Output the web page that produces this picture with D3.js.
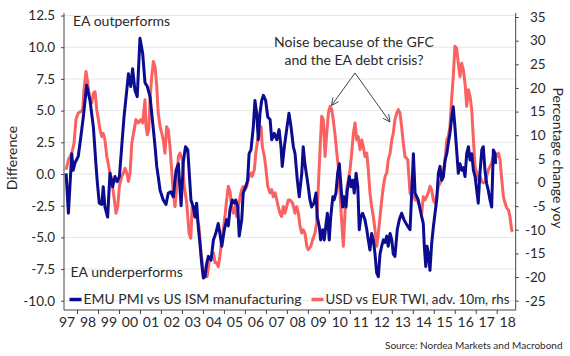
<!DOCTYPE html>
<html><head><meta charset="utf-8">
<script src="https://cdn.jsdelivr.net/npm/d3@7"></script>
<style>body{margin:0;background:#fff}svg{display:block;font-family:Lato,"Open Sans",sans-serif}</style>
</head><body><svg id="c" width="570" height="356"></svg>
<script>
// ---- data ----
const yearTicks = d3.range(1998, 2019);
const yearLabels = ["97","98","99","00","01","02","03","04","05","06","07","08","09","10","11","12","13","14","15","16","17","18"];
const yearLabelPositions = d3.range(1997.5, 2019, 1);
const leftTicks = [-10, -7.5, -5, -2.5, 0, 2.5, 5, 7.5, 10, 12.5];
const rightTicks = [-25, -20, -15, -10, -5, 0, 5, 10, 15, 20, 25, 30, 35];

// EMU PMI vs US ISM manufacturing (difference, lhs) [decimal year, value]
const emuPmiVsIsm = [
[1997.48,0.05],[1997.59,-3.1],[1997.75,1.6],[1997.82,0.3],[1997.90,0.85],[1998.06,1.4],[1998.18,2.9],[1998.30,4.5],[1998.46,7.0],[1998.62,5.8],[1998.78,3.7],[1998.91,0.6],[1998.97,-0.7],[1999.06,-2.3],[1999.18,-2.4],[1999.25,-1.0],[1999.33,-2.6],[1999.46,-3.4],[1999.57,0.05],[1999.70,-1.0],[1999.81,-0.2],[1999.92,-0.6],
[2000.02,-0.2],[2000.13,2.15],[2000.24,4.5],[2000.34,6.1],[2000.45,7.9],[2000.56,6.9],[2000.65,8.3],[2000.76,6.6],[2000.87,6.1],[2001.00,10.7],[2001.13,9.5],[2001.24,7.2],[2001.35,6.9],[2001.48,6.1],[2001.61,4.0],[2001.72,2.15],[2001.80,0.6],[2001.87,-0.2],[2001.96,-1.3],
[2002.11,-2.05],[2002.24,-2.4],[2002.35,-1.5],[2002.47,-1.4],[2002.59,-1.8],[2002.72,0.3],[2002.83,0.8],[2002.96,-2.5],[2003.07,1.0],[2003.17,2.15],[2003.28,1.9],[2003.34,0.3],[2003.43,-2.05],[2003.54,-2.6],[2003.62,-3.4],[2003.70,-2.3],[2003.78,-4.2],[2003.86,-5.5],[2003.94,-7.05],
[2004.02,-8.2],[2004.10,-8.1],[2004.18,-7.05],[2004.26,-6.5],[2004.39,-6.8],[2004.50,-5.2],[2004.61,-4.7],[2004.73,-3.9],[2004.81,-4.7],[2004.90,-5.7],[2005.02,-4.4],[2005.13,-3.6],[2005.21,-4.1],[2005.29,-2.8],[2005.40,-2.05],[2005.50,-2.3],[2005.56,-2.05],[2005.66,-2.6],[2005.73,-4.9],[2005.85,-3.6],[2005.92,-1.5],
[2006.04,-1.0],[2006.13,-0.5],[2006.20,1.6],[2006.29,1.9],[2006.40,3.7],[2006.48,5.8],[2006.56,4.8],[2006.64,2.7],[2006.72,4.8],[2006.80,5.8],[2006.88,6.2],[2006.99,5.8],[2007.09,4.5],[2007.20,4.3],[2007.28,2.7],[2007.40,3.2],[2007.52,2.7],[2007.63,3.5],[2007.72,2.15],[2007.78,0.6],[2007.88,2.15],[2007.99,3.5],
[2008.10,4.8],[2008.20,3.7],[2008.31,2.15],[2008.39,1.6],[2008.50,-0.5],[2008.59,-1.8],[2008.71,0.05],[2008.78,2.15],[2008.86,0.8],[2008.95,-0.2],[2009.02,-1.0],[2009.10,-2.05],[2009.18,-2.6],[2009.29,-2.3],[2009.39,-1.5],[2009.45,-3.4],[2009.55,-4.2],[2009.61,-5.2],[2009.71,-4.4],[2009.78,-5.2],[2009.87,-3.9],[2009.93,-3.1],
[2010.02,-5.2],[2010.09,-3.4],[2010.19,-1.8],[2010.25,-2.05],[2010.34,-1.5],[2010.42,0.05],[2010.50,0.8],[2010.58,-1.0],[2010.66,-2.6],[2010.72,-1.8],[2010.82,-2.6],[2010.88,-1.3],[2010.98,-0.2],[2011.06,-1.0],[2011.14,-0.5],[2011.21,-1.5],[2011.30,0.05],[2011.38,-1.0],[2011.45,-4.4],[2011.52,-3.4],[2011.61,-3.1],[2011.72,-3.6],[2011.81,-4.4],[2011.88,-5.2],[2011.96,-6.0],
[2012.04,-4.7],[2012.12,-5.2],[2012.20,-6.3],[2012.28,-7.8],[2012.36,-8.1],[2012.44,-6.3],[2012.52,-5.7],[2012.60,-5.2],[2012.68,-5.4],[2012.76,-4.9],[2012.83,-5.7],[2012.92,-4.7],[2013.00,-5.2],[2013.07,-6.3],[2013.15,-6.5],[2013.26,-4.4],[2013.36,-3.6],[2013.47,-3.1],[2013.58,-3.6],[2013.68,-3.9],[2013.79,-4.2],[2013.87,-4.4],[2013.95,-1.5],
[2014.03,1.6],[2014.11,-1.5],[2014.19,-1.8],[2014.26,-2.05],[2014.35,-2.8],[2014.43,-3.4],[2014.50,-3.9],[2014.55,-5.7],[2014.62,-7.3],[2014.68,-5.7],[2014.74,-6.3],[2014.82,-7.6],[2014.90,-5.5],[2014.98,-4.2],[2015.06,-3.1],[2015.14,-2.05],[2015.22,0.05],[2015.30,0.6],[2015.38,-0.5],[2015.46,-0.2],[2015.54,1.1],[2015.62,1.6],[2015.69,2.4],[2015.77,3.2],[2015.86,4.5],[2015.93,5.3],
[2016.01,3.7],[2016.09,1.9],[2016.17,0.05],[2016.25,0.8],[2016.33,0.3],[2016.41,0.5],[2016.49,-0.2],[2016.57,1.6],[2016.65,2.15],[2016.73,1.1],[2016.81,1.6],[2016.89,0.3],[2016.97,-0.2],[2017.05,-1.3],[2017.12,-2.3],[2017.20,0.05],[2017.29,1.9],[2017.36,2.15],[2017.44,0.3],[2017.52,-0.75],[2017.60,-1.3],[2017.68,-2.05],[2017.76,-2.6],[2017.84,1.9],[2017.92,1.6],[2017.95,0.8]
];

// USD vs EUR TWI, adv. 10m (% y/y, rhs) [decimal year, value]
const usdVsEurTwi = [
[1997.48,2.7],[1997.59,4.8],[1997.75,6.2],[1997.86,8.3],[1997.95,13.3],[1998.06,14.7],[1998.18,15.0],[1998.27,15.4],[1998.33,19.6],[1998.43,23.5],[1998.49,21.7],[1998.59,18.2],[1998.70,16.8],[1998.78,18.9],[1998.86,19.2],[1998.94,15.4],[1999.02,13.3],[1999.10,11.1],[1999.18,9.7],[1999.25,10.4],[1999.33,9.0],[1999.42,5.5],[1999.54,2.7],[1999.65,0.6],[1999.76,-3.0],[1999.86,-6.5],[1999.94,-5.1],
[2000.02,-0.8],[2000.13,1.3],[2000.21,2.0],[2000.29,3.0],[2000.37,2.0],[2000.45,0.2],[2000.53,2.0],[2000.61,8.3],[2000.72,11.1],[2000.81,13.3],[2000.92,12.6],[2001.04,13.3],[2001.13,12.6],[2001.19,15.4],[2001.24,17.5],[2001.29,11.8],[2001.35,10.1],[2001.42,11.1],[2001.48,17.5],[2001.56,22.4],[2001.64,25.6],[2001.72,24.5],[2001.80,20.3],[2001.87,14.7],[2001.96,11.8],
[2002.04,10.4],[2002.11,9.0],[2002.19,6.2],[2002.27,11.8],[2002.35,11.1],[2002.43,7.6],[2002.51,2.7],[2002.59,-2.2],[2002.67,-5.1],[2002.75,-0.8],[2002.83,5.5],[2002.91,6.2],[2003.02,4.8],[2003.11,-0.8],[2003.23,-4.4],[2003.34,-10.7],[2003.42,-11.8],[2003.49,-5.1],[2003.59,-5.1],[2003.70,-7.2],[2003.81,-9.3],[2003.91,-14.9],
[2004.00,-17.8],[2004.10,-19.2],[2004.20,-19.9],[2004.29,-17.0],[2004.39,-15.6],[2004.50,-14.9],[2004.58,-17.0],[2004.66,-17.0],[2004.73,-17.8],[2004.81,-15.6],[2004.90,-12.1],[2004.97,-10.0],[2005.05,-7.2],[2005.13,-3.7],[2005.21,-0.8],[2005.29,-1.9],[2005.37,-5.1],[2005.45,-6.5],[2005.53,-5.1],[2005.61,-7.2],[2005.69,-5.1],[2005.77,-3.0],[2005.85,-1.5],[2005.92,-0.8],
[2006.01,-1.5],[2006.09,-0.8],[2006.20,1.3],[2006.29,2.0],[2006.35,1.3],[2006.45,2.7],[2006.52,6.2],[2006.61,9.0],[2006.67,10.4],[2006.77,11.8],[2006.83,7.6],[2006.93,5.5],[2006.99,3.4],[2007.09,-0.8],[2007.20,-2.2],[2007.28,-1.5],[2007.35,-3.0],[2007.44,-2.2],[2007.52,-3.7],[2007.59,-5.1],[2007.67,-6.5],[2007.75,-7.2],[2007.83,-5.1],[2007.91,-6.5],[2007.99,-5.1],
[2008.07,-3.7],[2008.15,-3.7],[2008.28,-4.4],[2008.39,-6.5],[2008.47,-5.1],[2008.55,-6.5],[2008.63,-9.3],[2008.71,-10.7],[2008.78,-10.0],[2008.86,-10.7],[2008.95,-13.5],[2009.02,-14.2],[2009.14,-13.5],[2009.23,-12.1],[2009.34,-10.7],[2009.42,-8.6],[2009.50,-0.8],[2009.58,6.9],[2009.66,14.0],[2009.74,13.3],[2009.82,5.5],[2009.90,10.4],[2009.98,14.7],
[2010.06,16.1],[2010.14,15.4],[2010.21,13.3],[2010.29,10.4],[2010.38,6.2],[2010.45,3.4],[2010.53,-2.2],[2010.61,-7.9],[2010.69,-13.5],[2010.77,-6.5],[2010.85,-1.5],[2010.93,0.6],[2011.01,2.7],[2011.09,6.2],[2011.17,10.4],[2011.25,12.6],[2011.33,9.0],[2011.40,9.7],[2011.49,6.9],[2011.57,9.0],[2011.64,7.6],[2011.72,5.5],[2011.81,6.2],[2011.88,2.7],[2011.96,-2.2],
[2012.04,-5.1],[2012.12,-7.2],[2012.20,-10.0],[2012.28,-13.5],[2012.36,-10.7],[2012.44,-7.2],[2012.52,-3.7],[2012.60,-0.8],[2012.68,1.3],[2012.76,2.0],[2012.83,4.8],[2012.92,6.2],[2013.00,9.0],[2013.07,10.4],[2013.15,13.3],[2013.24,14.7],[2013.31,15.4],[2013.39,14.7],[2013.47,11.8],[2013.55,8.3],[2013.63,5.5],[2013.76,4.8],[2013.87,-2.2],[2013.95,-3.0],
[2014.03,-2.2],[2014.11,-3.7],[2014.19,-3.0],[2014.26,-4.4],[2014.35,-5.1],[2014.43,-6.5],[2014.50,-3.0],[2014.58,-3.7],[2014.66,-3.0],[2014.74,-2.2],[2014.82,-0.8],[2014.90,-1.5],[2014.98,-3.7],[2015.06,-4.4],[2015.14,-3.0],[2015.22,-0.8],[2015.30,-0.1],[2015.38,0.6],[2015.46,2.7],[2015.54,4.8],[2015.62,9.0],[2015.69,9.7],[2015.77,11.8],[2015.86,18.2],[2015.93,22.4],
[2016.01,28.8],[2016.09,28.4],[2016.17,25.2],[2016.25,22.4],[2016.33,25.2],[2016.41,23.8],[2016.49,21.0],[2016.57,16.1],[2016.65,19.6],[2016.73,18.2],[2016.81,15.4],[2016.89,9.0],[2016.97,3.4],[2017.05,2.0],[2017.12,0.6],[2017.20,1.3],[2017.29,0.2],[2017.36,-0.1],[2017.44,0.2],[2017.52,1.3],[2017.60,2.7],[2017.68,3.4],[2017.76,4.1],[2017.84,5.5],[2017.92,6.2],
[2018.01,5.5],[2018.08,6.2],[2018.16,4.8],[2018.24,0.6],[2018.32,-3.0],[2018.40,-4.4],[2018.48,-5.4],[2018.56,-5.8],[2018.63,-7.2],[2018.71,-10.0],[2018.76,-10.4]
];

const seriesNames = ["EMU PMI vs US ISM manufacturing", "USD vs EUR TWI, adv. 10m, rhs"];
const colors = {emu: "#0c0c90", twi: "#fa6262"};

// ---- layout ----
const svg = d3.select("#c");
const L = 64, R = 515.7, T = 13, B = 310;
const x = d3.scaleLinear().domain([1997.38, 2018.905]).range([L, R]);
const yL = d3.scaleLinear().domain([-10.73, 12.7]).range([B, T]);
const yR = d3.scaleLinear().domain([-26.97, 35.85]).range([B, T]);
const textCol = "#2a2a2a", axisCol = "#444";

// gridlines
svg.append("g").selectAll("line").data(leftTicks).join("line")
  .attr("x1", L).attr("x2", R).attr("y1", d => yL(d)).attr("y2", d => yL(d))
  .attr("stroke", "#e6e6e6").attr("stroke-width", 1);

// lines
const lineR = d3.line().x(d => x(d[0])).y(d => yR(d[1])).curve(d3.curveLinear);
const lineL = d3.line().x(d => x(d[0])).y(d => yL(d[1])).curve(d3.curveLinear);
svg.append("path").datum(usdVsEurTwi).attr("d", lineR)
  .attr("fill", "none").attr("stroke", colors.twi).attr("stroke-width", 3).attr("stroke-linejoin", "round");
svg.append("path").datum(emuPmiVsIsm).attr("d", lineL)
  .attr("fill", "none").attr("stroke", colors.emu).attr("stroke-width", 3).attr("stroke-linejoin", "round");

function styleAxis(g) {
  g.selectAll(".domain").attr("stroke", axisCol);
  g.selectAll(".tick line").attr("stroke", axisCol);
  g.selectAll("text").attr("fill", textCol).style("font-size", "13.5px").style("font-family", "Lato, sans-serif");
}

// left axis
const gL = svg.append("g").attr("transform", `translate(${L},0)`)
  .call(d3.axisLeft(yL).tickValues(leftTicks).tickFormat(d => d.toFixed(1)).tickSize(3).tickSizeOuter(0).tickPadding(6));
styleAxis(gL);
gL.select(".domain").attr("d", `M0,${T}V${B}`);

// right axis
const gR = svg.append("g").attr("transform", `translate(${R},0)`)
  .call(d3.axisRight(yR).tickValues(rightTicks).tickFormat(d => String(d)).tickSize(3).tickSizeOuter(0));
styleAxis(gR);
gR.select(".domain").attr("d", `M0,${T}V${B}`);
gR.selectAll("text").attr("x", 30).attr("text-anchor", "end");

// bottom axis: ticks at year boundaries
const gB = svg.append("g").attr("transform", `translate(0,${B})`)
  .call(d3.axisBottom(x).tickValues(yearTicks).tickFormat("").tickSize(4).tickSizeOuter(0));
styleAxis(gB);
gB.select(".domain").attr("d", `M${L},0H${R}`);
// bottom labels at mid-year
const gB2 = svg.append("g").attr("transform", `translate(0,${B})`)
  .call(d3.axisBottom(x).tickValues(yearLabelPositions).tickFormat((d, i) => yearLabels[i]).tickSize(0).tickPadding(7));
styleAxis(gB2);
gB2.select(".domain").remove();
gB2.selectAll("text").style("font-size", "14px");

// axis titles
svg.append("text").attr("transform", "translate(17,158) rotate(-90)").attr("text-anchor", "middle")
  .attr("fill", textCol).style("font-size", "14px").text("Difference");
svg.append("text").attr("transform", "translate(552.5,158) rotate(90)").attr("text-anchor", "middle")
  .attr("fill", textCol).style("font-size", "14px").text("Percentage change yoy");

// in-plot labels
svg.append("text").attr("x", 73).attr("y", 26).attr("fill", textCol).style("font-size", "14px").text("EA outperforms");
svg.append("text").attr("x", 70.5).attr("y", 277).attr("fill", textCol).style("font-size", "14px").text("EA underperforms");

// annotation
const ann = svg.append("text").attr("text-anchor", "middle").attr("fill", textCol).style("font-size", "14px");
ann.append("tspan").attr("x", 354).attr("y", 46.5).text("Noise because of the GFC");
ann.append("tspan").attr("x", 354).attr("y", 64.5).text("and the EA debt crisis?");

const arrows = [[355, 73, 331.5, 105.5], [355, 73, 390, 122]];
arrows.forEach(([x1, y1, x2, y2]) => {
  svg.append("line").attr("x1", x1).attr("y1", y1).attr("x2", x2).attr("y2", y2)
    .attr("stroke", "#444").attr("stroke-width", 1);
  const a = Math.atan2(y2 - y1, x2 - x1), len = 8, spread = 0.45;
  const p1 = [x2 - len * Math.cos(a - spread), y2 - len * Math.sin(a - spread)];
  const p2 = [x2 - len * Math.cos(a + spread), y2 - len * Math.sin(a + spread)];
  svg.append("path").attr("d", `M${p1}L${x2},${y2}L${p2}`).attr("fill", "none")
    .attr("stroke", "#444").attr("stroke-width", 1);
});

// legend
const legend = [
  {name: seriesNames[0], color: colors.emu, x: 69.5, w: 218},
  {name: seriesNames[1], color: colors.twi, x: 311.5, w: 184}
];
legend.forEach(l => {
  svg.append("line").attr("x1", l.x).attr("x2", l.x + 12).attr("y1", 299.5).attr("y2", 299.5)
    .attr("stroke", l.color).attr("stroke-width", 3.5);
  svg.append("text").attr("x", l.x + 14).attr("y", 304).attr("fill", textCol).style("font-size", "14px")
    .attr("textLength", l.w).attr("lengthAdjust", "spacingAndGlyphs").text(l.name);
});

// source
svg.append("text").attr("x", 562.5).attr("y", 348.5).attr("text-anchor", "end").attr("fill", textCol)
  .style("font-size", "10px").text("Source: Nordea Markets and Macrobond");
</script></body></html>
